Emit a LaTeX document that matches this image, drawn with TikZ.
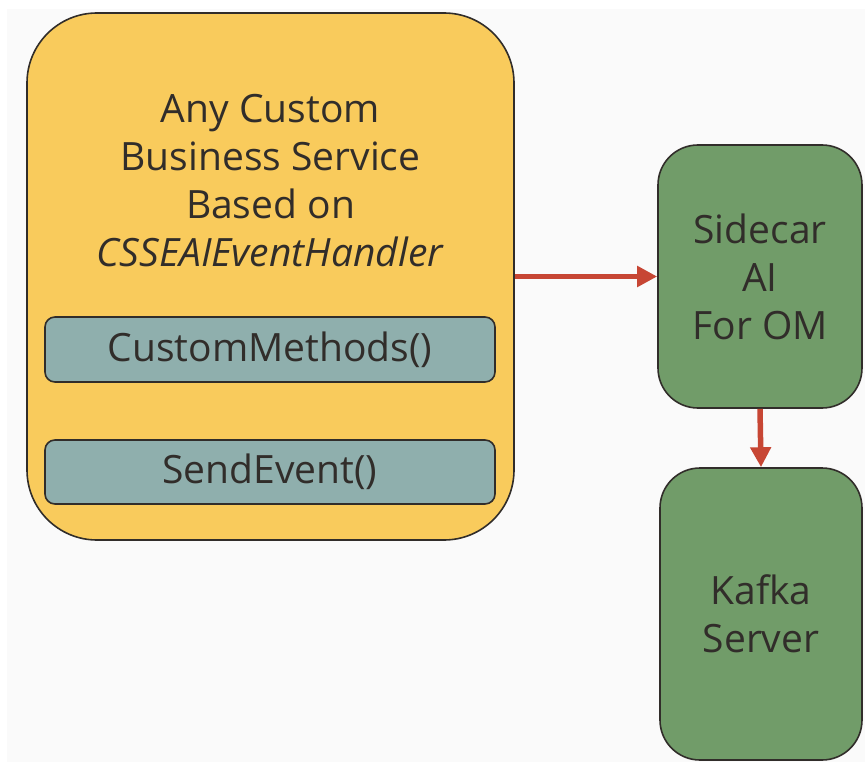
\documentclass[tikz,border=0pt]{standalone}
\usepackage{fontspec}
\setmainfont{Open Sans}
\usetikzlibrary{arrows.meta}
\definecolor{bizyellow}{HTML}{F9CB5C}
\definecolor{methodgray}{HTML}{8FAFAD}
\definecolor{sidegreen}{HTML}{719C69}
\definecolor{arrowred}{HTML}{C74634}
\definecolor{inkdark}{HTML}{312D2A}
\begin{document}
\begin{tikzpicture}[x=1pt, y=-1pt,
    box/.style={draw=inkdark, line width=1.6pt, text=inkdark, align=center, font=\fontsize{39}{48}\selectfont},
    flow/.style={draw=arrowred, line width=5.5pt, arrows={-{Triangle[length=20pt, width=20pt]}}}]
  \useasboundingbox (0, 0) rectangle (865, 762);
  \fill[white] (0, 0) rectangle (865, 762);
  \fill[black!2] (7, 9) rectangle (865, 762);

  \node[box, fill=bizyellow, rounded corners=70pt, minimum width=487pt, minimum height=527pt] (service) at (270.5, 276.5) {};
  \node[text=inkdark, align=center, font=\fontsize{39}{48}\selectfont] (title) at (270.5, 181) {Any Custom\\Business Service\\Based on\\\textit{CSSEAIEventHandler}};
  \node[box, fill=methodgray, rounded corners=10pt, minimum width=450pt, minimum height=65pt] (methods) at (270, 349.5) {CustomMethods()};
  \node[box, fill=methodgray, rounded corners=10pt, minimum width=450pt, minimum height=64pt] (send) at (270, 472) {SendEvent()};

  \node[box, fill=sidegreen, rounded corners=40pt, minimum width=204pt, minimum height=263pt] (sidecar) at (760, 276.5) {Sidecar\\AI\\For OM};
  \node[box, fill=sidegreen, rounded corners=40pt, minimum width=202pt, minimum height=292pt] (kafka) at (761, 614) {Kafka\\Server};

  \draw[flow] (service.east) -- (sidecar.west);
  \draw[flow] (sidecar.south) -- (kafka.north);
\end{tikzpicture}
\end{document}
